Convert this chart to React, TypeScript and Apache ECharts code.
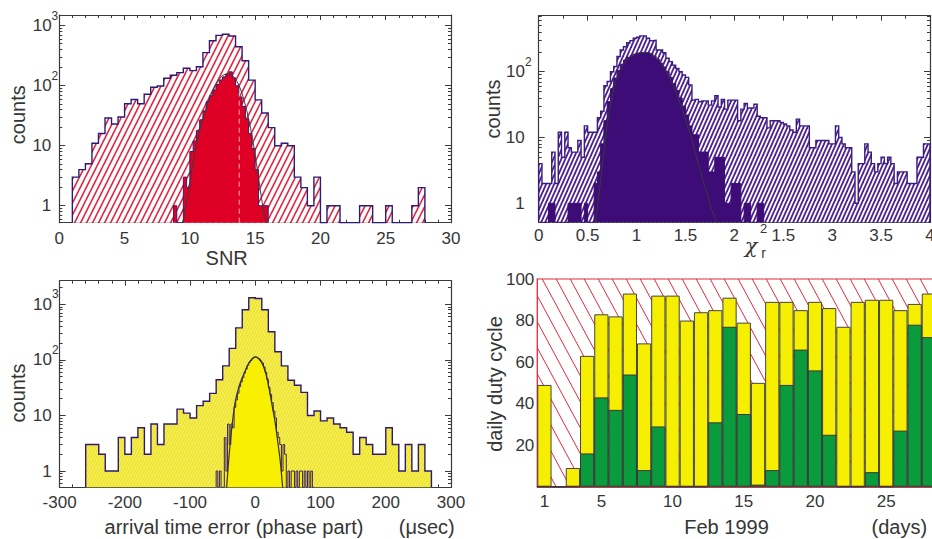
import React, { useEffect, useRef } from "react";
import * as echarts from "echarts";

// ---------- Panel 1 : SNR ----------
const snrStart = 1.0;
const snrWidth = 0.5;
const snrAll = [3, 4, 5, 11, 16, 29, 23, 30, 50, 59, 50, 72, 94, 99, 133, 149, 165, 195, 178, 207, 355, 562, 690, 720, 675, 445, 260, 124, 58, 35, 20, 10, 11, 10, 3, 2, 1, 3, 0, 1, 1, 0, 0, 0, 1, 1, 0, 0, 1, 0, 0, 0, 1, 2];
const snrSelStart = 8.75;
const snrSelWidth = 0.25;
const snrSel = [1, 0, 0, 3, 2, 8, 12, 18, 27, 38, 54, 68, 85, 105, 125, 140, 155, 170, 135, 100, 65, 45, 28, 16, 9, 4, 1, 1, 1];
const snrFitX = [9.45, 9.7, 10.0, 10.3, 10.6, 10.9, 11.2, 11.5, 11.8, 12.1, 12.4, 12.7, 13.0, 13.3, 13.6, 13.9, 14.2, 14.5, 14.8, 15.1, 15.4, 15.7, 15.85];
const snrFitY = [0.52, 1, 2.5, 6, 13, 24, 40, 62, 88, 115, 140, 155, 158, 145, 118, 85, 52, 28, 13, 5, 1.8, 0.7, 0.52];
const snrMarkX = 13.78;
const snrMarkTop = 75;

// ---------- Panel 2 : reduced chi-square ----------
const chiStart = 0;
const chiWidth = 1 / 30;
const chiAll = [4, 2, 2, 2, 6, 2, 12, 5, 12, 7, 6, 6, 9, 5, 15, 12, 12, 12, 20, 25, 61, 71, 100, 120, 170, 214, 240, 276, 297, 322, 333, 350, 350, 322, 297, 300, 214, 214, 194, 160, 142, 126, 112, 100, 89, 82, 63, 37, 38, 35, 36, 36, 31, 36, 43, 29, 38, 27, 37, 37, 37, 18, 27, 33, 28, 28, 32, 21, 20, 20, 14, 18, 18, 18, 17, 16, 15, 13, 12, 19, 15, 15, 15, 7, 7, 9, 9, 9, 9, 8, 8, 15, 10, 8, 7, 7, 3, 1, 4, 4, 8, 6, 4, 3, 4, 5, 4, 5, 4, 2, 3, 3, 3, 2, 2, 2, 5, 5, 8, 8];
const chiSel = [0, 0, 0, 1, 1, 0, 0, 0, 0, 1, 1, 1, 1, 0, 1, 0, 0, 2, 3, 8, 18, 35, 55, 80, 105, 130, 150, 165, 175, 185, 190, 195, 196, 195, 188, 172, 155, 135, 118, 100, 82, 66, 52, 40, 30, 22, 15, 11, 11, 6, 6, 6, 3, 3, 5, 5, 5, 1, 1, 2, 2, 2, 0, 1, 1, 0, 0, 1, 1];
const chiFitX = [0.58, 0.62, 0.66, 0.70, 0.74, 0.78, 0.82, 0.86, 0.90, 0.95, 1.00, 1.05, 1.10, 1.15, 1.20, 1.25, 1.30, 1.35, 1.40, 1.45, 1.50, 1.55, 1.60, 1.65, 1.70, 1.75, 1.80, 1.83];
const chiFitY = [0.5, 1.5, 5, 15, 35, 65, 95, 125, 150, 172, 188, 196, 196, 186, 165, 135, 105, 75, 50, 32, 19, 11, 6, 3.2, 1.8, 1.0, 0.6, 0.5];
const chiTickLabels = ["0", "0.5", "1", "1.5", "2", "1.5", "3", "3.5", "4"];

// ---------- Panel 3 : arrival time error ----------
const atStart = -260;
const atWidth = 10;
const atAll = [3, 3, 2, 1, 1, 4, 2, 4, 6, 2, 7, 3, 7, 7, 13, 11, 9, 15, 18, 25, 44, 78, 161, 377, 800, 1310, 1270, 800, 320, 140, 78, 43, 35, 26, 10, 12, 8, 9, 7, 6, 5, 2, 4, 3, 2, 2, 6, 3, 1, 3, 1, 3, 1];
const atSelStart = -60;
const atSelWidth = 2.5;
const atSel = [1, 0, 1, 0, 0, 4, 1, 7, 3, 7, 6, 14, 19, 25, 33, 40, 48, 58, 68, 80, 90, 98, 106, 112, 112, 108, 104, 96, 88, 75, 60, 45, 32, 24, 17, 12, 9, 5, 4, 3, 1, 3, 2, 0, 1, 0, 1, 1, 0, 1, 0, 1, 1, 0, 1, 0, 1, 0, 1, 0];
const atFitX = [-44, -40, -36, -31, -25, -20, -15, -10, -5, 0, 5, 10, 15, 20, 25, 30, 35, 38, 42];
const atFitY = [0.5, 2, 6, 17, 33, 48, 66, 88, 104, 113, 106, 88, 63, 36, 17, 8, 3, 1.6, 0.5];

// ---------- Panel 4 : daily duty cycle, Feb 1999 ----------
const days = Array.from({ length: 28 }, (_, i) => String(i + 1));
const dutyTotal = [49, 0, 9, 63, 83, 82, 93, 69, 92, 92, 80, 84, 85, 91, 79, 50, 89, 89, 85, 89, 86, 77, 89, 90, 90, 85, 88, 93];
const dutyGreen = [0, 0, 0, 16, 43, 37, 54, 8, 29, 0, 0, 0, 31, 77, 35, 1, 8, 49, 66, 56, 25, 0, 0, 7, 0, 27, 78, 72];
const labelledDays = [1, 5, 10, 15, 20, 25];

const FONT = '"Liberation Sans", Arial, Helvetica, sans-serif';
const TXT = "#363636";
const AX = "#3a3a3a";

function hatch(w: number, h: number, color: string, lw: number, dir: 1 | -1, bg: string | null) {
  const c = document.createElement("canvas");
  c.width = w;
  c.height = h;
  const ctx = c.getContext("2d")!;
  if (bg) {
    ctx.fillStyle = bg;
    ctx.fillRect(0, 0, w, h);
  }
  ctx.strokeStyle = color;
  ctx.lineWidth = lw;
  for (let k = -2; k <= 2; k++) {
    ctx.beginPath();
    if (dir === 1) {
      ctx.moveTo(k * w - 0.5 * w, 1.5 * h);
      ctx.lineTo((k + 1) * w + 0.5 * w, -0.5 * h);
    } else {
      ctx.moveTo(k * w - 0.5 * w, -0.5 * h);
      ctx.lineTo((k + 1) * w + 0.5 * w, 1.5 * h);
    }
    ctx.stroke();
  }
  return { image: c.toDataURL(), repeat: "repeat", imageWidth: w, imageHeight: h };
}

const lg = (c: number, floor: number) => (c > 0 ? Math.log10(c) : floor);

function histLine(start: number, width: number, counts: number[], floor: number) {
  const pts: number[][] = [[start, floor]];
  counts.forEach((c, i) => {
    const y = lg(c, floor);
    pts.push([start + i * width, y], [start + (i + 1) * width, y]);
  });
  pts.push([start + counts.length * width, floor]);
  return pts;
}

function fitLine(xs: number[], ys: number[]) {
  return xs.map((x, i) => [x, Math.log10(ys[i])]);
}

const rich = {
  b: { fontSize: 17, lineHeight: 32, fontFamily: FONT, color: TXT },
  p: { fontSize: 17, lineHeight: 32, fontFamily: FONT, color: TXT, padding: [0, 7, 0, 0] },
  s: { fontSize: 12, lineHeight: 12, verticalAlign: "top", fontFamily: FONT, color: TXT },
};

function fmtLog(v: number) {
  const d = Math.round(v);
  if (d === 0) return "{p|1}";
  if (d === 1) return "{p|10}";
  return "{b|10}{s|" + d + "}";
}

function logAxes(grid: number, min: number, max: number, margin: number) {
  const majors: number[] = [];
  for (let d = Math.ceil(min); d <= Math.floor(max); d++) majors.push(d === 0 ? 0 : d);
  const minors: number[] = [];
  for (let d = Math.floor(min); d <= Math.floor(max); d++) {
    for (let k = 2; k <= 9; k++) {
      const v = d + Math.log10(k);
      if (v > min && v < max) minors.push(v);
    }
  }
  const base = { type: "value", gridIndex: grid, min, max, splitLine: { show: false } };
  const tick = (vals: number[], len: number) => ({
    show: true,
    inside: true,
    length: len,
    customValues: vals,
    lineStyle: { color: AX, width: 1 },
  });
  return [
    {
      ...base,
      position: "left",
      axisLine: { show: true, onZero: false, lineStyle: { color: AX, width: 1.2 } },
      axisTick: tick(majors, 6),
      axisLabel: { show: true, customValues: majors, margin, formatter: fmtLog, rich, align: "right" },
    },
    { ...base, position: "left", axisLine: { show: false, onZero: false }, axisTick: tick(minors, 3), axisLabel: { show: false } },
    {
      ...base,
      position: "right",
      axisLine: { show: true, onZero: false, lineStyle: { color: AX, width: 1.2 } },
      axisTick: tick(majors, 6),
      axisLabel: { show: false },
    },
    { ...base, position: "right", axisLine: { show: false, onZero: false }, axisTick: tick(minors, 3), axisLabel: { show: false } },
  ];
}

function valX(grid: number, min: number, max: number, interval: number, pos: string, showLabel: boolean, margin: number, minorSplit: number, formatter?: any) {
  return {
    type: "value",
    gridIndex: grid,
    min,
    max,
    interval,
    position: pos,
    axisLine: { show: true, onZero: false, lineStyle: { color: AX, width: 1.2 } },
    axisTick: { show: true, inside: true, length: 5, lineStyle: { color: AX } },
    minorTick: { show: true, splitNumber: minorSplit, length: 3, lineStyle: { color: AX } },
    axisLabel: { show: showLabel, margin, fontSize: 17, fontFamily: FONT, color: TXT, formatter },
    splitLine: { show: false },
    minorSplitLine: { show: false },
  };
}

function histSeries(xi: number, yi: number, data: number[][], fill: any, line: string, lw: number, z: number) {
  return {
    type: "line",
    xAxisIndex: xi,
    yAxisIndex: yi,
    data,
    symbol: "none",
    silent: true,
    clip: true,
    z,
    lineStyle: { color: line, width: lw, join: "miter" },
    areaStyle: { color: fill, opacity: 1, origin: "start" },
  };
}

function curveSeries(xi: number, yi: number, data: number[][], color: string, lw: number, z: number) {
  return {
    type: "line",
    xAxisIndex: xi,
    yAxisIndex: yi,
    data,
    symbol: "none",
    silent: true,
    clip: true,
    smooth: 0.35,
    z,
    lineStyle: { color, width: lw },
  };
}

function text(t: string, x: number, y: number, size: number, rot = 0, family = FONT, italic = false) {
  return {
    type: "text",
    x,
    y,
    rotation: rot,
    silent: true,
    style: {
      text: t,
      fontSize: size,
      fontFamily: family,
      fontStyle: italic ? "italic" : "normal",
      fill: TXT,
      align: "center",
      verticalAlign: "middle",
    },
  };
}

function buildOption() {
  const Y1: [number, number] = [-0.283, 3.178];
  const Y2: [number, number] = [-0.289, 2.851];
  const Y3: [number, number] = [-0.293, 3.425];

  const hatch1 = hatch(6, 12, "#e5203a", 1.5, 1, "#ffffff");
  const hatch2 = hatch(4, 9, "#4d2390", 1.8, 1, "#ffffff");
  const hatch3 = hatch(3, 6, "#f7f27a", 1, 1, "#eee42a");
  const hatch4 = hatch(14, 26, "#e5283c", 1, -1, "#ffffff");

  const grids = [
    { left: 59.3, top: 15, width: 391.7, height: 207.7 },
    { left: 538.7, top: 15.7, width: 391.3, height: 206.6 },
    { left: 59.6, top: 280.7, width: 391.4, height: 206.6 },
    { left: 537.3, top: 279, width: 398.7, height: 207.7 },
  ].map((g) => ({ ...g, outerBoundsMode: "none", containLabel: false, show: false }));

  const xAxis: any[] = [
    valX(0, 0, 30, 5, "bottom", true, 7, 5),
    valX(0, 0, 30, 5, "top", false, 0, 5),
    valX(1, 0, 4, 0.5, "bottom", true, 5, 2, (v: number) => chiTickLabels[Math.round(v / 0.5)]),
    valX(1, 0, 4, 0.5, "top", false, 0, 2),
    valX(2, -300, 300, 100, "bottom", true, 7, 5),
    valX(2, -300, 300, 100, "top", false, 0, 5),
    {
      type: "category",
      gridIndex: 3,
      data: days,
      position: "bottom",
      boundaryGap: true,
      axisLine: { show: true, onZero: false, lineStyle: { color: "#7a1a24", width: 1.5 } },
      axisTick: { show: false },
      axisLabel: {
        interval: (i: number) => labelledDays.includes(i + 1),
        margin: 6,
        fontSize: 17,
        fontFamily: FONT,
        color: TXT,
      },
      splitLine: { show: false },
    },
  ];

  const yAxis: any[] = [
    ...logAxes(0, Y1[0], Y1[1], 1),
    ...logAxes(1, Y2[0], Y2[1], 7),
    ...logAxes(2, Y3[0], Y3[1], 1),
    {
      type: "value",
      gridIndex: 3,
      min: 0,
      max: 100,
      interval: 20,
      position: "left",
      axisLine: { show: true, onZero: false, lineStyle: { color: "#d81e30", width: 1.2 } },
      axisTick: { show: true, inside: true, length: 5, lineStyle: { color: "#555" } },
      minorTick: { show: true, splitNumber: 4, length: 3, lineStyle: { color: "#555" } },
      axisLabel: {
        margin: 3,
        fontSize: 17,
        fontFamily: FONT,
        color: TXT,
        formatter: (v: number) => (v === 0 ? "" : String(v)),
      },
      splitLine: { show: false },
      minorSplitLine: { show: false },
    },
  ];

  const series: any[] = [
    // panel 1
    histSeries(0, 0, histLine(snrStart, snrWidth, snrAll, Y1[0]), hatch1, "#2d1b78", 1.4, 2),
    histSeries(0, 0, histLine(snrSelStart, snrSelWidth, snrSel, Y1[0]), "#df0025", "#3a1b6e", 1, 3),
    curveSeries(0, 0, fitLine(snrFitX, snrFitY), "#3c3c3c", 1, 4),
    {
      type: "line",
      xAxisIndex: 0,
      yAxisIndex: 0,
      data: [
        [snrMarkX, Y1[0]],
        [snrMarkX, Math.log10(snrMarkTop)],
      ],
      symbol: "none",
      silent: true,
      z: 5,
      lineStyle: { color: "rgba(255,190,200,0.9)", width: 1, type: [5, 4] },
    },
    // panel 2
    histSeries(2, 4, histLine(chiStart, chiWidth, chiAll, Y2[0]), hatch2, "#3b1d82", 1.4, 2),
    histSeries(2, 4, histLine(chiStart, chiWidth, chiSel, Y2[0]), "#3d0c77", "#3d0c77", 1, 3),
    curveSeries(2, 4, fitLine(chiFitX, chiFitY), "#3a3a3a", 1, 4),
    // panel 3
    histSeries(4, 8, histLine(atStart, atWidth, atAll, Y3[0]), hatch3, "#2e1a70", 1.4, 2),
    histSeries(4, 8, histLine(atSelStart, atSelWidth, atSel, Y3[0]), "#f8f000", "#3a2070", 1, 3),
    curveSeries(4, 8, fitLine(atFitX, atFitY), "#333333", 1.2, 4),
    // panel 4
    {
      type: "bar",
      xAxisIndex: 6,
      yAxisIndex: 12,
      data: dutyTotal,
      barCategoryGap: "0%",
      barGap: "-100%",
      silent: true,
      z: 2,
      itemStyle: { color: "#f6ef00", borderColor: "#454545", borderWidth: 1 },
      markArea: {
        silent: true,
        itemStyle: { color: hatch4, borderColor: "#e0283a", borderWidth: 1.2 },
        data: [[{ yAxis: 0 }, { yAxis: 100 }]],
      },
    },
    {
      type: "bar",
      xAxisIndex: 6,
      yAxisIndex: 12,
      data: dutyGreen,
      barCategoryGap: "0%",
      barGap: "-100%",
      silent: true,
      z: 3,
      itemStyle: { color: "#0a9b3d", borderColor: "#3a3a3a", borderWidth: 1 },
    },
  ];

  const graphic: any[] = [
    text("counts", 17.5, 114.7, 20, Math.PI / 2),
    text("SNR", 226.7, 257.5, 20),
    text("counts", 492.7, 109, 20, Math.PI / 2),
    text("χ", 751, 246, 21, 0, '"DejaVu Serif", serif', true),
    text("2", 763.5, 228, 13),
    text("r", 763.5, 253, 14),
    text("counts", 17.5, 393, 20, Math.PI / 2),
    text("arrival time error (phase part)", 234, 527, 20),
    text("(μsec)", 426.7, 527, 20),
    text("daily duty cycle", 494.5, 384, 20, Math.PI / 2),
    text("Feb 1999", 726.5, 527, 20),
    text("(days)", 899.3, 527, 20),
  ];

  return {
    animation: false,
    backgroundColor: "#ffffff",
    textStyle: { fontFamily: FONT },
    grid: grids,
    xAxis,
    yAxis,
    series,
    graphic,
  };
}

export default function App() {
  const ref = useRef<HTMLDivElement>(null);
  useEffect(() => {
    const el = ref.current;
    if (!el) return;
    const chart = echarts.init(el, undefined, { renderer: "svg", width: 932, height: 539 });
    chart.setOption(buildOption() as any);
    return () => {
      chart.dispose();
    };
  }, []);
  return (
    <div
      ref={ref}
      style={{ position: "fixed", left: 0, top: 0, width: 932, height: 539, background: "#ffffff" }}
    />
  );
}
